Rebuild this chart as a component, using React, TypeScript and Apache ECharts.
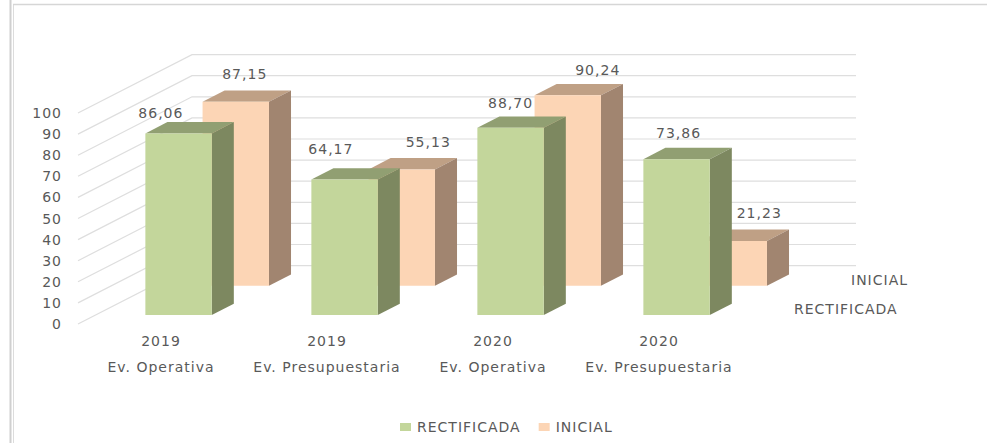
import React, { useEffect, useRef } from "react";
import * as echarts from "echarts";

const years = ["2019", "2019", "2020", "2020"];
const evaluations = ["Ev. Operativa", "Ev. Presupuestaria", "Ev. Operativa", "Ev. Presupuestaria"];
const rectificada = [86.06, 64.17, 88.7, 73.86];
const inicial = [87.15, 55.13, 90.24, 21.23];
const valueTicks = [0, 10, 20, 30, 40, 50, 60, 70, 80, 90, 100];
const seriesNames = ["RECTIFICADA", "INICIAL"];

const categories = years.map((y, i) => `${y}\n${evaluations[i]}`);

// hand-placed label offsets from the centre of each bar's front-top edge
const greenLabelOffsets = [[-17.7, -20], [-13.7, -31], [0, -25], [2, -26]];
const orangeLabelOffsets = [[9, -27.5], [26.5, -27.5], [30, -25.5], [25.5, -27.5]];

const TEXT = "#595959";
const FONT = "'DejaVu Sans'";
const SHEAR = 114 / 58.4; // px right per px up, for moving into the depth of the plot
const BACK = 58.4;
const DEPTH = 11.3;

const barRenderer = (
  depthStart: number,
  colors: { front: string; side: string; top: string },
  offsets: number[][]
) => (params: any, api: any) => {
  const cat = api.value(0);
  const val = api.value(1);
  const [cx, yTop] = api.coord([cat, val]);
  const [, yBase] = api.coord([cat, 0]);
  const half = api.size([1, 0])[0] * 0.2;
  const dx0 = depthStart * SHEAR;
  const t = yTop - depthStart;
  const b = yBase - depthStart;
  const l = cx - half + dx0;
  const r = cx + half + dx0;
  const ox = DEPTH * SHEAR;
  const off = offsets[params.dataIndex];
  return {
    type: "group",
    children: [
      {
        type: "polygon",
        shape: { points: [[l, t], [r, t], [r + ox, t - DEPTH], [l + ox, t - DEPTH]] },
        style: { fill: colors.top },
      },
      {
        type: "polygon",
        shape: { points: [[r, t], [r + ox, t - DEPTH], [r + ox, b - DEPTH], [r, b]] },
        style: { fill: colors.side },
      },
      { type: "rect", shape: { x: l, y: t, width: r - l, height: b - t }, style: { fill: colors.front } },
      {
        type: "text",
        x: (l + r) / 2 + off[0],
        y: t + off[1],
        style: {
          text: val.toFixed(2).replace(".", ","),
          fill: TEXT,
          font: `14px ${FONT}`,
          align: "center",
          verticalAlign: "middle",
        },
      },
    ],
  };
};

export default function App() {
  const ref = useRef<HTMLDivElement>(null);
  useEffect(() => {
    document.body.style.margin = "0";
    const chart = echarts.init(ref.current!, null, { renderer: "svg" });
    chart.setOption({
      animation: false,
      backgroundColor: "#ffffff",
      grid: { left: 78, top: 113, width: 664, height: 211 },
      legend: {
        data: seriesNames.map((name, i) => ({
          name,
          icon: "rect",
          itemStyle: { color: i === 0 ? "#c3d69b" : "#fcd5b5" },
        })),
        left: 395,
        top: 415,
        itemWidth: 11,
        itemHeight: 8,
        itemGap: 29,
        textStyle: { color: TEXT, fontFamily: FONT, fontSize: 14, padding: [0, 0, 0, 1] },
      },
      xAxis: {
        type: "category",
        data: categories,
        axisLine: { show: false },
        axisTick: { show: false },
        splitLine: { show: false },
        axisLabel: { interval: 0, color: TEXT, fontFamily: FONT, fontSize: 14, lineHeight: 26, margin: 4 },
      },
      yAxis: {
        type: "value",
        min: 0,
        max: 100,
        interval: 10,
        axisLine: { show: false },
        axisTick: { show: false },
        splitLine: { show: false },
        axisLabel: { color: TEXT, fontFamily: FONT, fontSize: 14, margin: 16 },
      },
      graphic: [
        { type: "line", shape: { x1: 10.5, y1: 0, x2: 10.5, y2: 443 }, style: { stroke: "#d0d0d0", lineWidth: 2 } },
        { type: "line", shape: { x1: 13.5, y1: 4, x2: 13.5, y2: 443 }, style: { stroke: "#dcdcdc", lineWidth: 1 } },
        { type: "line", shape: { x1: 13, y1: 4.5, x2: 987, y2: 4.5 }, style: { stroke: "#d6d6d6", lineWidth: 1.5 } },
        { type: "text", x: 851, y: 280, style: { text: "INICIAL", fill: TEXT, font: `14px ${FONT}`, verticalAlign: "middle" } },
        { type: "text", x: 794, y: 309, style: { text: "RECTIFICADA", fill: TEXT, font: `14px ${FONT}`, verticalAlign: "middle" } },
      ],
      series: [
        {
          type: "custom",
          name: "walls",
          silent: true,
          z: 1,
          data: valueTicks.map((v) => [0, v]),
          encode: { x: 0, y: 1 },
          renderItem: (params: any, api: any) => {
            const y = api.coord([0, api.value(1)])[1];
            const sys = params.coordSys;
            return {
              type: "polyline",
              shape: {
                points: [
                  [sys.x, y],
                  [sys.x + BACK * SHEAR, y - BACK],
                  [sys.x + BACK * SHEAR + sys.width, y - BACK],
                ],
              },
              style: { fill: "none", stroke: "#dedede", lineWidth: 1.2 },
            };
          },
        },
        {
          type: "custom",
          name: "INICIAL",
          z: 2,
          itemStyle: { color: "#fcd5b5" },
          data: inicial.map((v, i) => [i, v]),
          encode: { x: 0, y: 1 },
          renderItem: barRenderer(38.3, { front: "#fcd5b5", side: "#a18570", top: "#bfa085" }, orangeLabelOffsets),
        },
        {
          type: "custom",
          name: "RECTIFICADA",
          z: 3,
          itemStyle: { color: "#c3d69b" },
          data: rectificada.map((v, i) => [i, v]),
          encode: { x: 0, y: 1 },
          renderItem: barRenderer(9, { front: "#c3d69b", side: "#7d8860", top: "#919f72" }, greenLabelOffsets),
        },
      ],
    });
    return () => chart.dispose();
  }, []);
  return (
    <>
      <style>{`svg text { letter-spacing: 1px; }`}</style>
      <div ref={ref} style={{ width: 987, height: 443 }} />
    </>
  );
}
